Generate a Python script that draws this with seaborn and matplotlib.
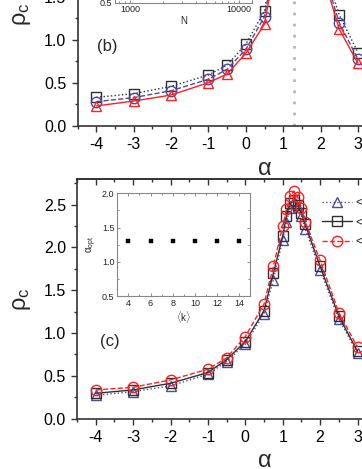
import matplotlib
matplotlib.use("Agg")
import numpy as np
import pandas as pd
import seaborn as sns
import matplotlib.pyplot as plt
from matplotlib.ticker import MultipleLocator, LogLocator, NullFormatter, FixedLocator

# ---------------- data ----------------
alpha = [-4, -3, -2, -1, -0.5, 0, 0.5, 0.75, 1.0, 1.1, 1.2, 1.3, 1.4, 1.5, 1.6, 2.0, 2.5, 3.0]

# panel (b)
b_sq = [0.333, 0.376, 0.461, 0.593, 0.709, 0.95, 1.337, 1.95, 2.35, 2.5, 2.6, 2.65, 2.6, 2.5, 2.35, 1.95, 1.29, 0.853]
b_ci = [0.283, 0.33, 0.41, 0.543, 0.659, 0.891, 1.271, 1.88, 2.28, 2.43, 2.53, 2.58, 2.53, 2.43, 2.28, 1.9, 1.20, 0.775]
b_tr = [0.233, 0.29, 0.36, 0.504, 0.605, 0.845, 1.186, 1.79, 2.2, 2.35, 2.45, 2.5, 2.45, 2.35, 2.2, 1.85, 1.124, 0.729]
b_labels = ["N=1000", "N=5000", "N=10000"]

# panel (c)
c_tr = [0.273, 0.316, 0.383, 0.52, 0.668, 0.871, 1.227, 1.62, 2.09, 2.30, 2.46, 2.54, 2.47, 2.37, 2.22, 1.74, 1.164, 0.766]
c_sq = [0.297, 0.336, 0.414, 0.539, 0.69, 0.90, 1.26, 1.70, 2.13, 2.37, 2.52, 2.55, 2.50, 2.40, 2.27, 1.78, 1.20, 0.785]
c_ci = [0.336, 0.367, 0.453, 0.578, 0.71, 0.96, 1.34, 1.78, 2.25, 2.45, 2.60, 2.66, 2.59, 2.46, 2.30, 1.85, 1.24, 0.836]
c_labels = ["<k>=4", "<k>=8", "<k>=12"]

# inset (c)
k_vals = [4, 6, 8, 10, 12, 14]
alpha_opt = [1.3, 1.3, 1.3, 1.3, 1.3, 1.3]

alpha_line = 1.3

# ---------------- style ----------------
sns.set_theme(style="ticks")
plt.rcParams["font.family"] = ["Liberation Sans", "DejaVu Sans"]
plt.rcParams["mathtext.fontset"] = "custom"
plt.rcParams["mathtext.rm"] = "Liberation Sans"
plt.rcParams["mathtext.it"] = "Liberation Sans"
plt.rcParams["mathtext.bf"] = "Liberation Sans:bold"
plt.rcParams["axes.unicode_minus"] = False

RED = "#ff2020"
BLUE = "#4a4aa8"
BLACK = "#303030"
SPINE = "#333333"

W, H = 362, 469
fig = plt.figure(figsize=(W / 100, H / 100), dpi=100)


def px_axes(left, right, top, bottom):
    return fig.add_axes([left / W, (H - bottom) / H, (right - left) / W, (bottom - top) / H])


def series(ax, y, color, marker, ls, label):
    sns.lineplot(x=alpha, y=y, ax=ax, color=color, marker=marker, markersize=7.5,
                 markerfacecolor="none", markeredgecolor=color, markeredgewidth=1.0,
                 linestyle=ls, linewidth=1.0, label=label, errorbar=None, sort=False)


def style_main(ax, ymax):
    ax.set_xlim(-4.5, 5.5)
    ax.set_ylim(0, ymax)
    ax.xaxis.set_major_locator(MultipleLocator(1))
    ax.xaxis.set_minor_locator(MultipleLocator(0.5))
    ax.yaxis.set_major_locator(MultipleLocator(0.5))
    ax.yaxis.set_minor_locator(MultipleLocator(0.25))
    ax.yaxis.set_major_formatter(matplotlib.ticker.FormatStrFormatter("%.1f"))
    ax.tick_params(which="both", direction="out", width=1.0, colors=SPINE,
                   labelcolor="black", labelsize=11.5)
    ax.tick_params(which="major", length=4.5)
    ax.tick_params(which="minor", length=2.5)
    for s in ax.spines.values():
        s.set_color(SPINE)
        s.set_linewidth(1.2)
        s.set_visible(True)
    sec = ax.secondary_xaxis("top")
    sec.xaxis.set_major_locator(MultipleLocator(1))
    sec.xaxis.set_minor_locator(MultipleLocator(0.5))
    sec.tick_params(which="both", direction="in", width=1.0, colors=SPINE, labeltop=False)
    sec.tick_params(which="major", length=4.5)
    sec.tick_params(which="minor", length=2.5)
    sec.spines["top"].set_color(SPINE)
    sec.spines["top"].set_linewidth(1.2)
    ax.set_xlabel(r"$\alpha$", fontsize=17, labelpad=4)
    ax.set_ylabel(r"$\rho_c$", fontsize=17, labelpad=8)


def style_inset(ax):
    ax.tick_params(which="both", direction="in", top=True, right=True,
                   colors="#777777", labelcolor="#222222", labelsize=6.5, width=0.6, pad=2)
    ax.tick_params(which="major", length=2.5)
    ax.tick_params(which="minor", length=1.4)
    for s in ax.spines.values():
        s.set_color("#888888")
        s.set_linewidth(0.8)
        s.set_visible(True)


# ---------------- panel (b) ----------------
axb = px_axes(77.5, 77.5 + 374, 126 - 2.6 * 86, 126)
series(axb, b_sq, BLACK, "s", ":", b_labels[0])
series(axb, b_ci, BLUE, "o", "--", b_labels[1])
series(axb, b_tr, RED, "^", "-", b_labels[2])
axb.axvline(alpha_line, color="#b8b8b8", linestyle=(0, (1, 3)), linewidth=2.0, zorder=0)
style_main(axb, 2.6)
axb.legend(loc="upper left", bbox_to_anchor=(322 / W, (H + 60) / H), bbox_transform=fig.transFigure,
           frameon=False, fontsize=9)
axb.text(97 / W, (H - 47) / H, "(b)", transform=fig.transFigure, fontsize=12, va="center", ha="left")

# inset of (b)
axbi = px_axes(115, 252, 2.7 - 103, 2.7)
axbi.set_xscale("log")
axbi.set_xlim(728, 13150)
axbi.set_ylim(0.5, 2.0)
axbi.xaxis.set_major_locator(FixedLocator([1000, 10000]))
axbi.xaxis.set_major_formatter(matplotlib.ticker.FuncFormatter(lambda v, p: f"{int(v)}"))
axbi.xaxis.set_minor_locator(LogLocator(base=10, subs=np.arange(2, 10)))
axbi.xaxis.set_minor_formatter(NullFormatter())
axbi.yaxis.set_major_locator(MultipleLocator(0.5))
axbi.yaxis.set_major_formatter(matplotlib.ticker.FormatStrFormatter("%.1f"))
axbi.yaxis.set_minor_locator(MultipleLocator(0.25))
style_inset(axbi)
axbi.set_xlabel("N", fontsize=7, labelpad=1)

# ---------------- panel (c) ----------------
axc = px_axes(77, 77 + 374, 179, 418.7)
series(axc, c_tr, BLUE, "^", ":", c_labels[0])
series(axc, c_sq, BLACK, "s", "-", c_labels[1])
series(axc, c_ci, RED, "o", "--", c_labels[2])
style_main(axc, 2.8)
axc.legend(loc="upper left", bbox_to_anchor=(322 / W, (H - 197) / H), bbox_transform=fig.transFigure,
           frameon=False, fontsize=9, handlelength=2.4, handletextpad=0.3, labelspacing=0.6,
           borderaxespad=0, borderpad=0)
axc.text(100 / W, (H - 341) / H, "(c)", transform=fig.transFigure, fontsize=12, va="center", ha="left")

# inset of (c)
axci = px_axes(117.3, 250.3, 193.3, 296)
sns.scatterplot(x=k_vals, y=alpha_opt, ax=axci, marker="s", s=9, color="black", edgecolor="black",
                linewidth=0.3)
axci.set_xlim(3, 15)
axci.set_ylim(0.5, 2.0)
axci.xaxis.set_major_locator(MultipleLocator(2))
axci.xaxis.set_minor_locator(MultipleLocator(1))
axci.yaxis.set_major_locator(MultipleLocator(0.5))
axci.yaxis.set_minor_locator(MultipleLocator(0.25))
axci.yaxis.set_major_formatter(matplotlib.ticker.FormatStrFormatter("%.1f"))
style_inset(axci)
axci.set_xlabel(r"$\langle$k$\rangle$", fontsize=7, labelpad=1)
axci.set_ylabel(r"$\alpha_{opt}$", fontsize=7, labelpad=2)

fig.savefig("out.png", dpi=100)
